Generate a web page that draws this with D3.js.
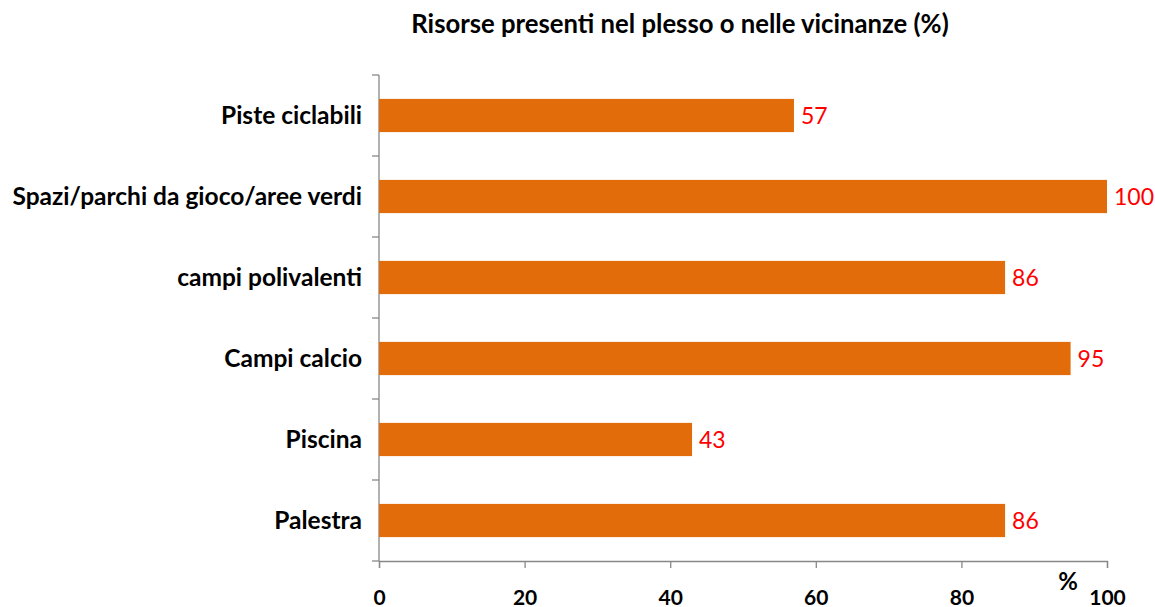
<!DOCTYPE html>
<meta charset="utf-8">
<style>
body{ margin:0; background:#fff; }
text{ font-family: Lato, "Open Sans", sans-serif; }
.cat text{ font-size:24.5px; font-weight:bold; fill:#000; }
.xaxis text{ font-size:21px; font-weight:bold; fill:#000; }
.val{ font-size:23px; fill:#ff0000; }
.title{ font-size:25.7px; font-weight:bold; }
</style>
<body>
<div id="chart"></div>
<script src="https://d3js.org/d3.v7.min.js"></script>
<script>
// categories top to bottom, values in %
var categories = ["Piste ciclabili", "Spazi/parchi da gioco/aree verdi", "campi polivalenti", "Campi calcio", "Piscina", "Palestra"];
var values = [57, 100, 86, 95, 43, 86];
var xTicks = [0, 20, 40, 60, 80, 100];

var W = 1155, H = 607;
var pLeft = 379, pRight = 1107, pTop = 75, pBottom = 561;

var svg = d3.select("#chart").append("svg").attr("width", W).attr("height", H);

var x = d3.scaleLinear().domain([0, 100]).range([pLeft, pRight]);
var y = d3.scaleBand().domain(categories).range([pTop, pBottom]).paddingInner(0.59).paddingOuter(0.295);

svg.append("text").attr("class","title")
	.attr("x", 680).attr("y", 33).attr("text-anchor","middle")
	.text("Risorse presenti nel plesso o nelle vicinanze (%)");

// y axis line and ticks at band boundaries
var ax = svg.append("g").attr("stroke","#888").attr("stroke-width",1.3);
ax.append("line").attr("x1",pLeft).attr("x2",pLeft).attr("y1",pTop).attr("y2",pBottom);
var step = (pBottom-pTop)/categories.length;
d3.range(categories.length+1).forEach(function(i){
	ax.append("line").attr("x1",pLeft-7).attr("x2",pLeft).attr("y1",pTop+step*i).attr("y2",pTop+step*i);
});

// x axis
var xg = svg.append("g").attr("class","xaxis").attr("transform","translate(0,"+pBottom+")")
	.call(d3.axisBottom(x).tickValues(xTicks).tickSize(7).tickPadding(22).tickFormat(d3.format("d")));
xg.select(".domain").attr("stroke","#888").attr("stroke-width",1.3);
xg.selectAll(".tick line").attr("stroke","#888").attr("stroke-width",1.3);

svg.append("text").attr("x",1068).attr("y",590).attr("text-anchor","middle")
	.style("font-size","24px").style("font-weight","bold").text("%");

// bars
svg.selectAll(".bar").data(values).enter().append("rect")
	.attr("class","bar")
	.attr("x", x(0))
	.attr("y", function(d,i){ return y(categories[i]); })
	.attr("width", function(d){ return x(d)-x(0); })
	.attr("height", y.bandwidth())
	.attr("fill","#e36c0a");

svg.selectAll(".val").data(values).enter().append("text")
	.attr("class","val")
	.attr("x", function(d){ return x(d)+7; })
	.attr("y", function(d,i){ return y(categories[i])+y.bandwidth()/2; })
	.attr("dy","0.36em")
	.text(function(d){ return d; });

svg.append("g").attr("class","cat").selectAll("text").data(categories).enter().append("text")
	.attr("x", 362).attr("text-anchor","end")
	.attr("y", function(d){ return y(d)+y.bandwidth()/2; })
	.attr("dy","0.36em")
	.text(function(d){ return d; });
</script>
</body>
